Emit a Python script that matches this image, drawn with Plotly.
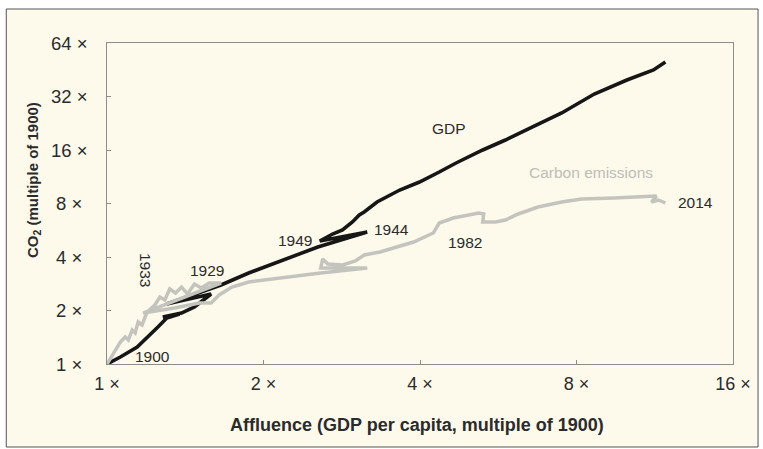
import math
import plotly.graph_objects as go

# ---- data (multiples of 1900) ----
# GDP (black): x = GDP per capita multiple, y = GDP multiple
gdp_x = [1.0, 1.061, 1.143, 1.210, 1.253, 1.303, 1.379, 1.280, 1.391, 1.473, 1.586,
         1.303, 1.505, 1.657, 1.873, 2.136, 2.544, 3.166, 2.566, 2.716, 2.838, 2.965,
         3.057, 3.124, 3.307, 3.657, 3.991, 4.356, 4.693, 5.281, 5.839, 6.571, 7.493,
         8.655, 10.0, 11.25, 11.86]
gdp_y = [1.0, 1.095, 1.246, 1.456, 1.615, 1.815, 1.911, 1.839, 1.936, 2.093, 2.477,
         2.176, 2.509, 2.783, 3.251, 3.749, 4.553, 5.530, 4.921, 5.388, 5.675, 6.295,
         6.893, 7.166, 8.157, 9.528, 10.57, 12.03, 13.52, 16.0, 18.21, 21.55, 25.84,
         33.05, 39.63, 45.1, 50.05]

# Carbon emissions (grey): x = GDP per capita multiple, y = CO2 multiple
co2_x = [1.0, 1.029, 1.061, 1.084, 1.099, 1.118, 1.133, 1.148, 1.168, 1.194, 1.236,
         1.264, 1.292, 1.320, 1.355, 1.391, 1.428, 1.473, 1.518, 1.572, 1.657, 1.173,
         1.349, 1.505, 1.586, 1.643, 1.739, 1.873, 2.231, 2.577, 3.166, 2.577, 2.600,
         2.658, 2.838, 3.004, 3.124, 3.351, 3.609, 3.888, 4.243, 4.356, 4.632, 5.189,
         5.304, 5.281, 5.589, 5.839, 6.181, 6.746, 7.493, 8.177, 9.446, 11.40, 11.15,
         11.50, 11.86]
co2_y = [1.0, 1.138, 1.330, 1.419, 1.365, 1.553, 1.494, 1.723, 1.658, 1.961, 2.148,
         2.382, 2.292, 2.643, 2.509, 2.712, 2.477, 2.819, 2.677, 2.856, 2.856, 1.936,
         2.066, 2.204, 2.204, 2.445, 2.712, 2.893, 3.087, 3.251, 3.469, 3.469, 3.898,
         3.653, 3.606, 3.798, 4.105, 4.268, 4.553, 4.858, 5.459, 6.214, 6.631, 7.074,
         6.983, 6.295, 6.295, 6.461, 6.983, 7.646, 8.157, 8.480, 8.591, 8.816, 8.157,
         8.372, 8.052]

x_ticks = [1, 2, 4, 8, 16]
x_tick_text = ["1 \u00d7", "2 \u00d7", "4 \u00d7", "8 \u00d7", "16 \u00d7"]
y_ticks = [1, 2, 4, 8, 16, 32, 64]
y_tick_text = ["1 \u00d7", "2 \u00d7", "4 \u00d7", "8 \u00d7", "16 \u00d7", "32 \u00d7", "64 \u00d7"]

FONT = "Liberation Sans, Arial, sans-serif"
BG = "#FDFAEC"
AXC = "#8c8c8c"
TXT = "#2b2b2b"

fig = go.Figure()
fig.add_trace(go.Scatter(x=gdp_x, y=gdp_y, mode="lines",
                         line=dict(color="#161616", width=3.6), hoverinfo="skip"))
fig.add_trace(go.Scatter(x=co2_x, y=co2_y, mode="lines",
                         line=dict(color="#C4C4BE", width=3.5), hoverinfo="skip"))

L = math.log10
ann = []
# y tick labels (centred)
for v, t in zip(y_ticks, y_tick_text):
    ann.append(dict(x=-0.06, xref="paper", y=L(v), yref="y", text=t, showarrow=False,
                    xanchor="center", yanchor="middle",
                    font=dict(size=18.5, color=TXT, family=FONT)))

def lab(text, xv, yv, dx=0, dy=0, xa="center", angle=0, color=TXT, size=15.5):
    ann.append(dict(x=L(xv), y=L(yv), xref="x", yref="y", text=text, showarrow=False,
                    xshift=dx, yshift=dy, xanchor=xa, yanchor="middle", textangle=angle,
                    font=dict(size=size, color=color, family=FONT)))

lab("1900", gdp_x[0], gdp_y[0], dx=45, dy=8)
lab("1929", gdp_x[10], gdp_y[10], dx=-4, dy=23)
lab("1933", co2_x[21], co2_y[21], dx=3, dy=43, angle=90)
lab("1944", gdp_x[17], gdp_y[17], dx=5, dy=3, xa="left")
lab("1949", gdp_x[18], gdp_y[18], dx=-6, dy=1, xa="right")
lab("1982", co2_x[45], co2_y[45], dx=-18, dy=-20)
lab("2014", co2_x[-1], co2_y[-1], dx=11, dy=1, xa="left")
lab("GDP", 4.55, 21.27)
lab("Carbon emissions", 8.54, 12.03, color="#BDBDB7")

ann.append(dict(x=-0.1183, y=0.573, xref="paper", yref="paper",
                text="<b>CO<sub>2</sub> (multiple of 1900)</b>", showarrow=False,
                textangle=-90, xanchor="center", yanchor="middle",
                font=dict(size=15, color=TXT, family=FONT)))
ann.append(dict(x=0.495, y=-0.19, xref="paper", yref="paper",
                text="<b>Affluence (GDP per capita, multiple of 1900)</b>", showarrow=False,
                xanchor="center", yanchor="middle", font=dict(size=18, color=TXT, family=FONT)))

fig.update_layout(
    width=763, height=449,
    margin=dict(l=107, r=22, t=43, b=85),
    paper_bgcolor="white", plot_bgcolor=BG,
    showlegend=False,
    font=dict(family=FONT, color=TXT),
    annotations=ann,
    shapes=[dict(type="rect", xref="paper", yref="paper",
                 x0=-0.1609, x1=1.04, y0=-0.2586, y1=1.1059,
                 fillcolor=BG, line=dict(color="#555555", width=1), layer="below")],
)
fig.update_xaxes(type="log", range=[0, L(16)], tickvals=x_ticks, ticktext=x_tick_text,
                 ticks="inside", ticklen=4, tickcolor=AXC, showline=True, linecolor=AXC,
                 linewidth=1, mirror=True, showgrid=False, zeroline=False,
                 tickfont=dict(size=18, color=TXT, family=FONT), ticklabelstandoff=3)
fig.update_yaxes(type="log", range=[0, L(64)], tickvals=y_ticks, showticklabels=False,
                 ticks="inside", ticklen=4, tickcolor=AXC, showline=True, linecolor=AXC,
                 linewidth=1, mirror=True, showgrid=False, zeroline=False)

fig.write_html("out.html", config={"displayModeBar": False},
               post_script="document.body.style.margin='0px';")
